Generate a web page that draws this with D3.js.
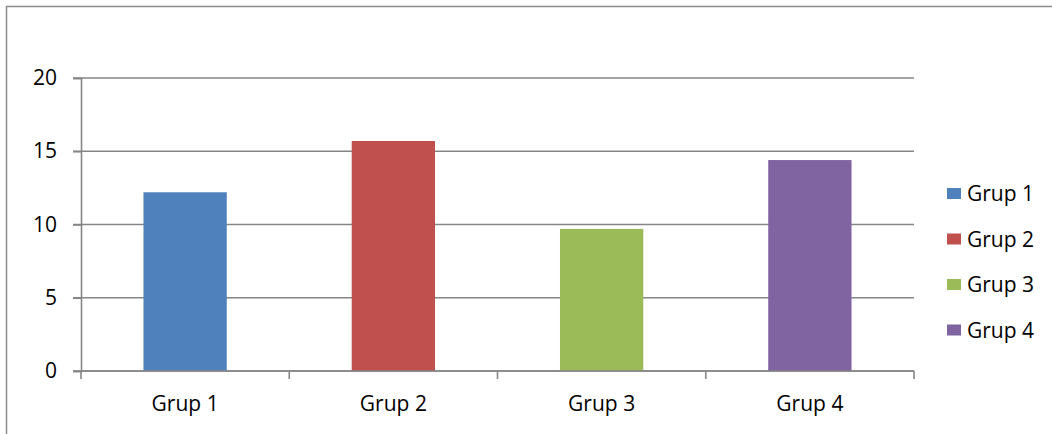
<!DOCTYPE html>
<html>
<head>
<meta charset="utf-8">
<script src="https://cdn.jsdelivr.net/npm/d3@7"></script>
<style>
  body { margin: 0; background: #fff; }
  text { font-family: "Open Sans", sans-serif; fill: #000; }
</style>
</head>
<body>
<script>
// chart data
const categories = ["Grup 1", "Grup 2", "Grup 3", "Grup 4"];
const values = [12.2, 15.7, 9.7, 14.4];
const colors = ["#4f81bd", "#c0504d", "#9bbb59", "#8064a2"];
const yTicks = [0, 5, 10, 15, 20];

const W = 1052, H = 434;
const margin = { top: 78, right: 138, bottom: 63, left: 81 };
const width = W - margin.left - margin.right;
const height = H - margin.top - margin.bottom;

const svg = d3.select("body")
    .append("svg")
    .attr("width", W)
    .attr("height", H);

// outer chart border
svg.append("rect")
    .attr("x", 6.5).attr("y", 6.5)
    .attr("width", W + 20).attr("height", H + 20)
    .attr("fill", "none")
    .attr("stroke", "#8c8c8c")
    .attr("stroke-width", 1.5);

const g = svg.append("g")
    .attr("transform", "translate(" + margin.left + "," + margin.top + ")");

const xScale = d3.scaleBand()
    .domain(categories)
    .range([0, width])
    .paddingInner(0.6)
    .paddingOuter(0.3);

const yScale = d3.scaleLinear()
    .domain([0, 20])
    .range([height, 0]);

// gridlines
g.selectAll(".grid")
    .data(yTicks)
    .enter()
    .append("line")
    .attr("class", "grid")
    .attr("x1", -8)
    .attr("x2", width)
    .attr("y1", d => yScale(d))
    .attr("y2", d => yScale(d))
    .attr("stroke", "#868686")
    .attr("stroke-width", 1.6);

// bars
g.selectAll(".bar")
    .data(values)
    .enter()
    .append("rect")
    .attr("class", "bar")
    .attr("x", (d, i) => xScale(categories[i]))
    .attr("y", d => yScale(d))
    .attr("width", xScale.bandwidth())
    .attr("height", d => height - yScale(d))
    .attr("fill", (d, i) => colors[i]);

// y axis
const yAxis = d3.axisLeft(yScale).tickValues(yTicks).tickSize(8).tickPadding(16);
const yAxisElem = g.append("g").call(yAxis);
yAxisElem.select(".domain").attr("stroke", "#868686").attr("stroke-width", 1.6);
yAxisElem.selectAll(".tick line").attr("stroke", "#868686").attr("stroke-width", 1.6);
yAxisElem.selectAll("text").attr("font-size", "21px").attr("font-family", "Open Sans, sans-serif").attr("fill", "#000");

// x axis: ticks between categories
const step = width / categories.length;
const xTickPos = d3.range(categories.length + 1).map(i => i * step);
g.selectAll(".xtick")
    .data(xTickPos)
    .enter()
    .append("line")
    .attr("class", "xtick")
    .attr("x1", d => d).attr("x2", d => d)
    .attr("y1", height).attr("y2", height + 8)
    .attr("stroke", "#868686")
    .attr("stroke-width", 1.6);

g.append("line")
    .attr("x1", 0).attr("x2", width)
    .attr("y1", height).attr("y2", height)
    .attr("stroke", "#868686")
    .attr("stroke-width", 1.6);

g.selectAll(".xlabel")
    .data(categories)
    .enter()
    .append("text")
    .attr("class", "xlabel")
    .attr("x", d => xScale(d) + xScale.bandwidth() / 2)
    .attr("y", height + 40)
    .attr("text-anchor", "middle")
    .attr("font-size", "21px")
    .text(d => d);

// legend
const legend = svg.append("g")
    .attr("transform", "translate(947,184)");

const items = legend.selectAll(".item")
    .data(categories)
    .enter()
    .append("g")
    .attr("class", "item")
    .attr("transform", (d, i) => "translate(0," + i * 45.5 + ")");

items.append("rect")
    .attr("width", 14)
    .attr("height", 11)
    .attr("y", 4)
    .attr("fill", (d, i) => colors[i]);

items.append("text")
    .attr("x", 20)
    .attr("y", 17)
    .attr("font-size", "21px")
    .text(d => d);
</script>
</body>
</html>
